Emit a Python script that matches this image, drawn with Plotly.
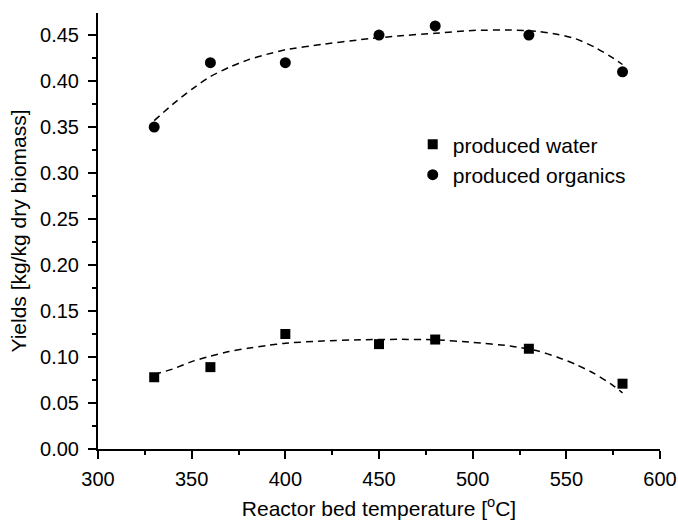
import plotly.graph_objects as go

# Reactor bed temperature [°C]
temperature = [330, 360, 400, 450, 480, 530, 580]
# Yields [kg/kg dry biomass]
water = [0.078, 0.089, 0.125, 0.114, 0.119, 0.109, 0.071]
organics = [0.35, 0.42, 0.42, 0.45, 0.46, 0.45, 0.41]

# Fitted trend curves (dashed)
trend_t = [330, 340, 350, 360, 370, 380, 390, 400, 420, 440, 460, 480, 500, 520,
           535, 545, 555, 565, 575, 580]
trend_water = [0.081, 0.087, 0.095, 0.101, 0.106, 0.1095, 0.1125, 0.115, 0.1175, 0.1188,
               0.1192, 0.1187, 0.116, 0.112, 0.1065, 0.100, 0.092, 0.082, 0.069, 0.061]
trend_organics = [0.357, 0.375, 0.391, 0.405, 0.415, 0.423, 0.429, 0.434, 0.440, 0.445,
                  0.449, 0.452, 0.455, 0.4555, 0.454, 0.451, 0.446, 0.437, 0.425, 0.418]

x_ticks = [300, 350, 400, 450, 500, 550, 600]
y_ticks = [0.00, 0.05, 0.10, 0.15, 0.20, 0.25, 0.30, 0.35, 0.40, 0.45]

FONT = "Liberation Sans, Arial, sans-serif"

fig = go.Figure()
for trend in (trend_water, trend_organics):
    fig.add_trace(go.Scatter(x=trend_t, y=trend, mode="lines", showlegend=False,
                             line=dict(color="black", width=1.5, dash="7px,5px",
                                       shape="spline", smoothing=0.6),
                             hoverinfo="skip"))

fig.add_trace(go.Scatter(x=temperature, y=water, mode="markers", name="produced water",
                         marker=dict(symbol="square", size=10, color="black")))
fig.add_trace(go.Scatter(x=temperature, y=organics, mode="markers", name="produced organics",
                         marker=dict(symbol="circle", size=11, color="black")))

axis_common = dict(showline=True, linecolor="black", linewidth=2, showgrid=False,
                   zeroline=False, ticks="outside", ticklen=8, tickwidth=1.5,
                   tickcolor="black", automargin=False,
                   tickfont=dict(family=FONT, size=20, color="black"))

fig.update_xaxes(range=[300, 600], tickvals=x_ticks, ticktext=[str(v) for v in x_ticks],
                 ticklabelstandoff=3,
                 minor=dict(dtick=25, ticks="outside", ticklen=4, tickwidth=1.5, tickcolor="black"),
                 title=dict(text="Reactor bed temperature [<sup>o</sup>C]",
                            font=dict(family=FONT, size=21, color="black"), standoff=12),
                 **axis_common)
fig.update_yaxes(range=[0, 0.474], tickvals=y_ticks, ticktext=[f"{v:.2f}" for v in y_ticks],
                 ticklabelstandoff=5,
                 minor=dict(dtick=0.025, ticks="outside", ticklen=4, tickwidth=1.5, tickcolor="black"),
                 title=dict(text="Yields [kg/kg dry biomass]",
                            font=dict(family=FONT, size=21, color="black"), standoff=8),
                 **axis_common)

fig.update_layout(
    width=678, height=527,
    margin=dict(l=98, r=18, t=13, b=78, autoexpand=False),
    paper_bgcolor="white", plot_bgcolor="white",
    legend=dict(x=0.56, y=0.745, xanchor="left", yanchor="top",
                bgcolor="rgba(0,0,0,0)", font=dict(family=FONT, size=21, color="black"),
                itemwidth=30, tracegroupgap=0),
    showlegend=True,
)

fig.write_html("out.html")
